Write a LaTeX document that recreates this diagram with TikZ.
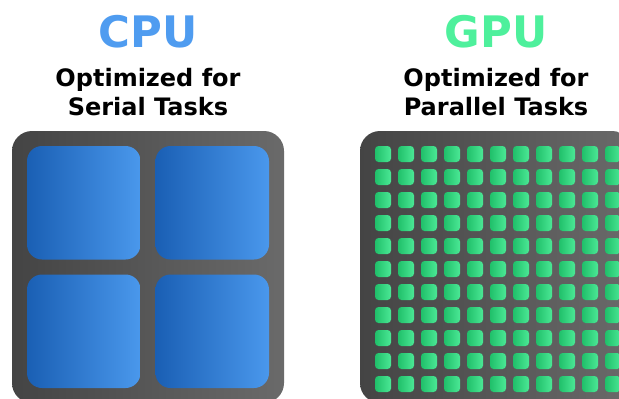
\documentclass[tikz,border=0pt]{standalone}
\usepackage{fontspec}
\setmainfont{DejaVu Sans}
\usetikzlibrary{positioning}

\definecolor{chipdark}{HTML}{444444}
\definecolor{chiplight}{HTML}{6A6A6A}
\definecolor{cpudark}{HTML}{1A5FB4}
\definecolor{cpulight}{HTML}{4A98EC}
\definecolor{gpudark}{HTML}{20C06A}
\definecolor{gpulight}{HTML}{4BE895}
\definecolor{cputitle}{HTML}{4F9CF0}
\definecolor{gputitle}{HTML}{4EF09C}

\begin{document}
\begin{tikzpicture}[x=1pt, y=-1pt,
                    chipnode/.style={rounded corners=20pt, left color=chipdark, right color=chiplight, minimum width=272pt, minimum height=272pt, inner sep=0pt, outer sep=0pt},
                    cpucore/.style={rounded corners=15pt, left color=cpudark, right color=cpulight, minimum size=113.5pt, inner sep=0pt, outer sep=0pt},
                    gpucore/.style={rounded corners=3.5pt, left color=gpudark, right color=gpulight, minimum size=16pt, inner sep=0pt, outer sep=0pt},
                    titletext/.style={font=\fontsize{43.4}{52}\selectfont\bfseries, anchor=base},
                    subtext/.style={font=\fontsize{24}{29}\selectfont\bfseries, anchor=base},
                ]
                    \useasboundingbox (0,0) rectangle (619,399);
                    \clip (0,0) rectangle (619,399);

                    %Titles
                    \node[titletext, text=cputitle](cputitle) at (148,47.5) {CPU};
                    \node[subtext](cpusub1) at (148,86) {Optimized for};
                    \node[subtext](cpusub2) at (148,115) {Serial Tasks};
                    \node[titletext, text=gputitle](gputitle) at (496,47.5) {GPU};
                    \node[subtext](gpusub1) at (496,86) {Optimized for};
                    \node[subtext](gpusub2) at (496,115) {Parallel Tasks};

                    %Chips
                    \node[chipnode](cpuchip) at (148,267) {};
                    \node[chipnode](gpuchip) at (496,267) {};

                    %CPU cores
                    \node[cpucore](core1)[below right=15pt and 15pt of cpuchip.north west] {};
                    \node[cpucore](core2)[right=15pt of core1] {};
                    \node[cpucore](core3)[below=15pt of core1] {};
                    \node[cpucore](core4)[right=15pt of core3] {};

                    %GPU cores
                    \foreach \col in {0,...,10}
                        \foreach \row in {0,...,10}
                            \node[gpucore](g-\row-\col) at (383+23*\col,154+23*\row) {};
                \end{tikzpicture}
\end{document}
